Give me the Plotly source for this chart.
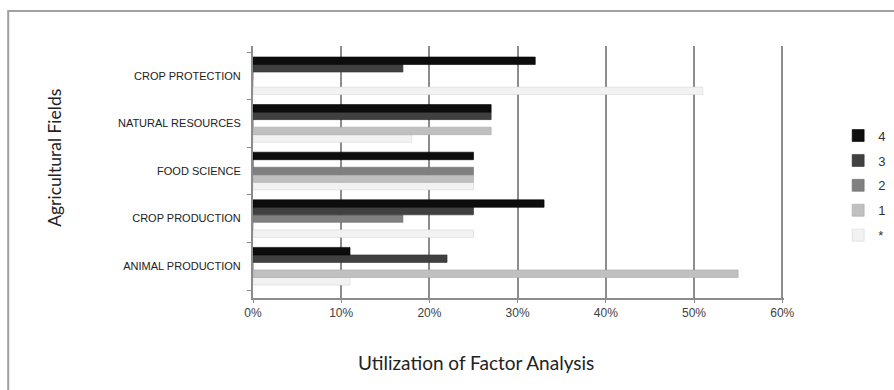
import plotly.graph_objects as go

# Agricultural fields, listed from the bottom of the chart upward
categories = ["ANIMAL PRODUCTION", "CROP PRODUCTION", "FOOD SCIENCE",
              "NATURAL RESOURCES", "CROP PROTECTION"]

# Share of studies per factor-analysis level (percent), same order as categories
series_names = ["*", "1", "2", "3", "4"]
values_star = [11, 25, 25, 18, 51]
values_1 = [55, 0, 25, 27, 0]
values_2 = [0, 17, 25, 0, 0]
values_3 = [22, 25, 0, 27, 17]
values_4 = [11, 33, 25, 27, 32]

x_ticks = [0, 10, 20, 30, 40, 50, 60]
x_tick_labels = ["0%", "10%", "20%", "30%", "40%", "50%", "60%"]

series_values = [values_star, values_1, values_2, values_3, values_4]
series_colors = ["#f2f2f2", "#c0c0c0", "#808080", "#404040", "#0d0d0d"]
series_edges = ["#d6d6d6", "#a8a8a8", "#6e6e6e", "#333333", "#000000"]

fig = go.Figure()
n = len(series_names)
for i, (name, vals, col, edge) in enumerate(zip(series_names, series_values, series_colors, series_edges)):
    fig.add_trace(go.Bar(
        y=categories, x=vals, name=name, orientation="h",
        marker=dict(color=col, line=dict(color=edge, width=0.6)),
        legendgroup=name, legendrank=n - i,
    ))

axis_gray = "#8c8c8c"

fig.update_layout(
    width=894, height=390,
    margin=dict(l=253, r=110, t=46, b=92, autoexpand=False),
    paper_bgcolor="white", plot_bgcolor="white",
    barmode="group", bargap=0.21, bargroupgap=0.0,
    font=dict(family="Liberation Sans, Arial, sans-serif", color="#333333"),
    xaxis=dict(
        range=[0, 60.2], tickvals=x_ticks, ticktext=x_tick_labels,
        showgrid=True, gridcolor=axis_gray, gridwidth=2,
        zeroline=False, showline=True, linecolor=axis_gray, linewidth=2,
        ticks="outside", ticklen=3, tickcolor=axis_gray,
        ticklabelstandoff=0,
        tickfont=dict(size=12, color="#404040"),
    ),
    yaxis=dict(
        categoryorder="array", categoryarray=categories,
        range=[-0.668, 4.626],
        showgrid=False, zeroline=False,
        showline=True, linecolor=axis_gray, linewidth=2,
        ticks="outside", ticklen=4, tickcolor=axis_gray, tickson="boundaries",
        ticklabelstandoff=8,
        tickfont=dict(size=11, color="#222222"),
    ),
    legend=dict(
        traceorder="grouped", tracegroupgap=5,
        x=1.102, y=0.704, xanchor="left", yanchor="top",
        font=dict(size=13, color="#333333"),
        itemwidth=30, bgcolor="rgba(0,0,0,0)",
    ),
    annotations=[
        dict(text="Utilization of Factor Analysis", xref="paper", yref="paper",
             x=0.42, y=-0.254, xanchor="center", yanchor="middle",
             showarrow=False, font=dict(family="Lato, sans-serif", size=19, color="#222222")),
        dict(text="Agricultural Fields", xref="paper", yref="paper",
             x=-0.373, y=0.556, xanchor="center", yanchor="middle", textangle=-90,
             showarrow=False, font=dict(family="Lato, sans-serif", size=17.5, color="#222222")),
    ],
    shapes=[
        dict(type="rect", xref="paper", yref="paper",
             x0=-0.461, x1=1.3, y0=-0.5, y1=1.139,
             line=dict(color="#a0a0a0", width=2), layer="below"),
    ],
)

fig.write_html("out.html")
